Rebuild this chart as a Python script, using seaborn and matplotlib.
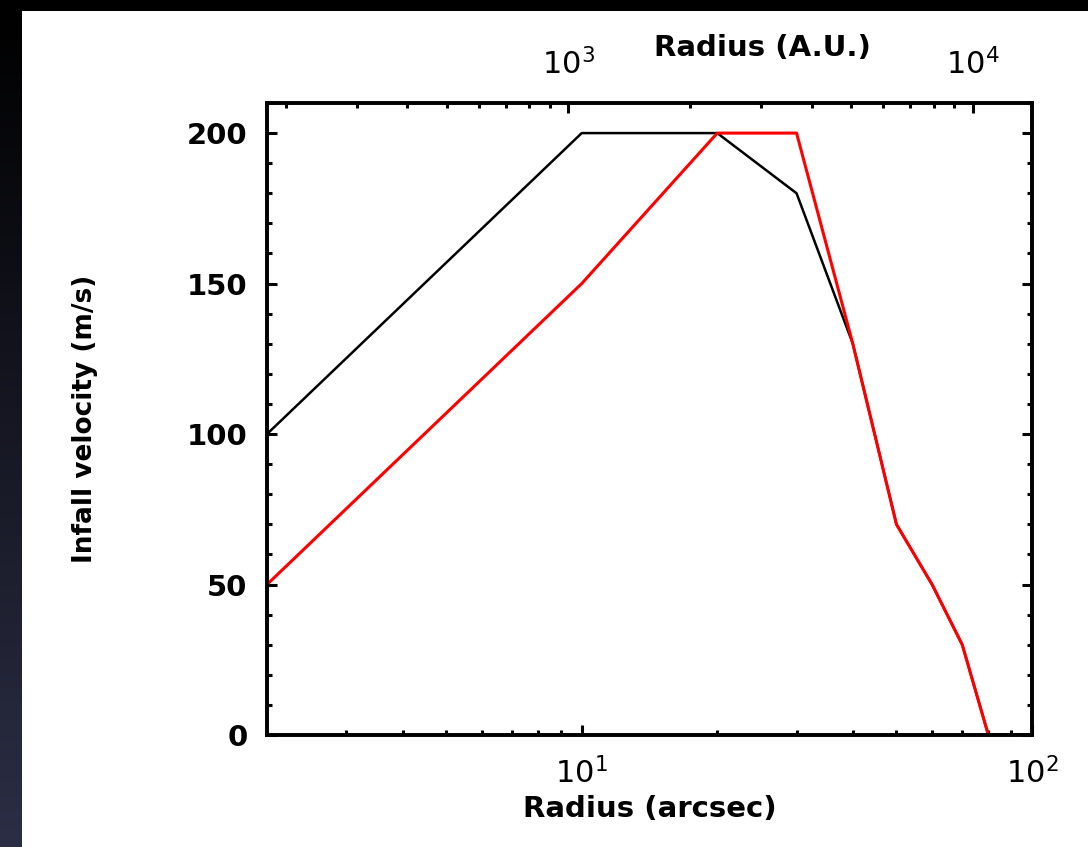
import numpy as np
import pandas as pd
import matplotlib
matplotlib.use("Agg")
import matplotlib.pyplot as plt
import seaborn as sns
from matplotlib.ticker import LogLocator, NullFormatter, MultipleLocator, LogFormatterMathtext, FixedLocator

# ---- data ----
radius_arcsec = [2, 10, 20, 30, 40, 50, 60, 70, 80, 90, 100]
vel_black = [100, 200, 200, 180, 130, 70, 50, 30, 0, 0, 0]
vel_red = [50, 150, 200, 200, 130, 70, 50, 30, 0, 0, 0]
x_lim = (2, 100)
y_lim = (0, 210)
au_lim = (180, 14000)
y_ticks = [0, 50, 100, 150, 200]

sns.set_style("white")
plt.rcParams["font.family"] = ["DejaVu Sans"]
plt.rcParams["mathtext.fontset"] = "dejavusans"
for k in ["text.color", "axes.labelcolor", "xtick.color", "ytick.color", "axes.edgecolor"]:
    plt.rcParams[k] = "black"

W, H = 1088, 847
fig = plt.figure(figsize=(W / 100, H / 100), dpi=100, facecolor="white")

# background decoration: dark gradient strip at left, black band at top
bg = fig.add_axes([0, 0, 1, 1], zorder=-10)
bg.set_xlim(0, W)
bg.set_ylim(H, 0)
bg.axis("off")
grad = np.linspace(0, 1, 256)[:, None]
c0 = np.array([0.0, 0.0, 0.0])
c1 = np.array([0.17, 0.18, 0.27])
img = c0[None, None, :] * (1 - grad[:, :, None]) + c1[None, None, :] * grad[:, :, None]
bg.imshow(img, extent=[0, 22, H, 0], aspect="auto")
bg.fill_between([0, W], 0, 11, color="black", lw=0)

ax = fig.add_axes([267 / W, 1 - 735 / H, (1032 - 267) / W, (735 - 103) / H])
df = pd.DataFrame({"r": radius_arcsec, "black": vel_black, "red": vel_red})
sns.lineplot(data=df, x="r", y="black", ax=ax, color="black", lw=1.8, sort=False, estimator=None)
sns.lineplot(data=df, x="r", y="red", ax=ax, color="#ff0000", lw=2.2, sort=False, estimator=None)

ax.set_xscale("log")
ax.set_xlim(*x_lim)
ax.set_ylim(*y_lim)
ax.xaxis.set_major_locator(LogLocator(base=10, numticks=10))
ax.xaxis.set_minor_locator(LogLocator(base=10, subs=np.arange(2, 10), numticks=20))
ax.xaxis.set_major_formatter(LogFormatterMathtext())
ax.xaxis.set_minor_formatter(NullFormatter())
ax.yaxis.set_major_locator(FixedLocator(y_ticks))
ax.yaxis.set_minor_locator(MultipleLocator(10))
ax.tick_params(axis="both", which="both", direction="in", color="black", width=2.2)
ax.tick_params(axis="both", which="major", length=7)
ax.tick_params(axis="both", which="minor", length=3.5)
ax.tick_params(axis="x", which="both", top=False, bottom=True, labelsize=22, pad=16)
ax.tick_params(axis="y", which="both", left=True, right=True, labelsize=21, pad=14)
for lab in ax.get_yticklabels():
    lab.set_fontweight("bold")
for s in ax.spines.values():
    s.set_linewidth(2.6)
    s.set_color("black")
ax.set_xlabel("Radius (arcsec)", fontsize=21, fontweight="bold", labelpad=4)
ax.set_ylabel("Infall velocity (m/s)", fontsize=19, fontweight="bold", labelpad=64)

ax2 = ax.twiny()
ax2.set_xscale("log")
ax2.set_xlim(*au_lim)
ax2.xaxis.set_major_locator(LogLocator(base=10, numticks=10))
ax2.xaxis.set_minor_locator(LogLocator(base=10, subs=np.arange(2, 10), numticks=20))
ax2.xaxis.set_major_formatter(LogFormatterMathtext())
ax2.xaxis.set_minor_formatter(NullFormatter())
ax2.tick_params(axis="x", which="both", direction="in", width=2.2, labelsize=22, pad=16)
ax2.tick_params(axis="x", which="major", length=7)
ax2.tick_params(axis="x", which="minor", length=3.5)
for s in ax2.spines.values():
    s.set_linewidth(2.6)
    s.set_color("black")
ax2.set_xlabel("Radius (A.U.)", fontsize=21, fontweight="bold")
ax2.xaxis.set_label_coords((762 - 267) / (1032 - 267), (735 - 48) / (735 - 103))
ax2.xaxis.label.set_va("center")

fig.savefig("out.png", dpi=100, facecolor="white")
